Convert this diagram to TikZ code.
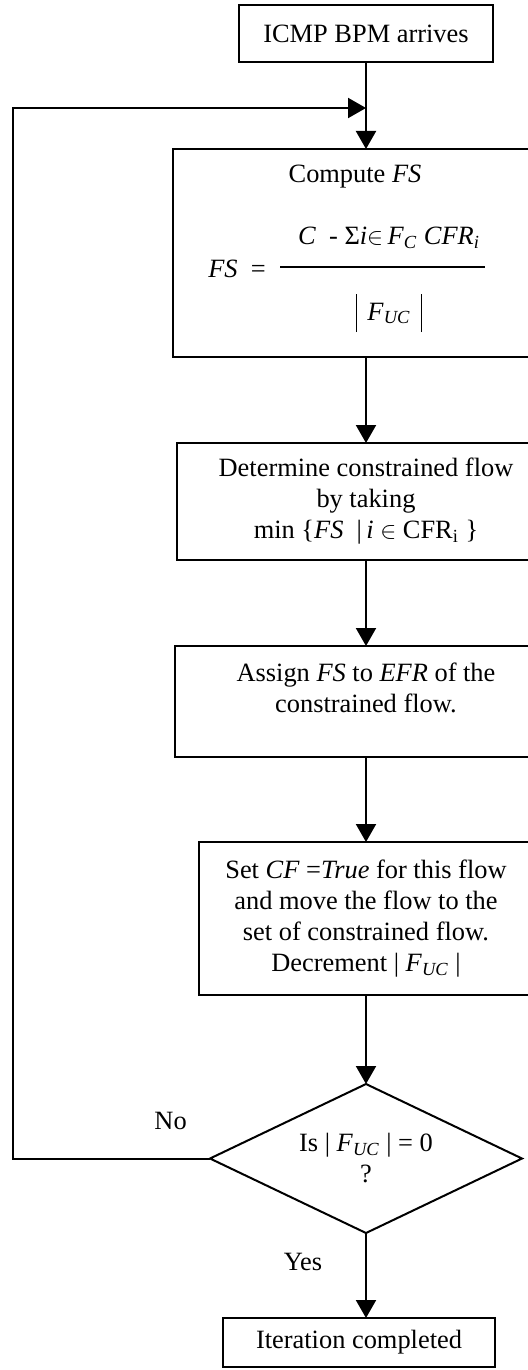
\documentclass[tikz,border=0pt]{standalone}
\usepackage{fontspec}
\setmainfont{Liberation Serif}
\usetikzlibrary{arrows.meta,positioning,shapes.geometric}
\newcommand{\lowix}[1]{\textsubscript{\itshape #1}}

\begin{document}
\begin{tikzpicture}[x=0.5pt, y=-0.5pt, font=\fontsize{13.2pt}{15.5pt}\selectfont,
  line width=1pt, >={Triangle[length=9pt,width=10pt]},
  blk/.style={draw, align=center, inner sep=2pt, outer sep=0pt, minimum width=#1},
  blk/.default=136pt,
  dec/.style={draw, diamond, aspect=2.1, align=center, inner sep=0pt, outer sep=0pt, minimum width=156pt, minimum height=74.5pt}]
\useasboundingbox (0,0) rectangle (528,1370);
\clip (0,0) rectangle (528,1370);
\node[blk=127pt, minimum height=28.5pt] (icmp) at (366,33.5) {ICMP BPM arrives};
\node[blk=193pt, minimum height=104pt, below=43.5pt of icmp] (comp) {};
\node (cfs) at ([shift={(-5.5pt,-14pt)}]comp.north) {Compute \textit{FS}};
\node (num) at ([shift={(11.5pt,-44.5pt)}]comp.north) {\textit{C}\ \ - Σ\textit{i}$\in$\,\textit{F}\lowix{C}\ \textit{CFR}\lowix{i}};
\node (fsl) at ([shift={(-64.5pt,-60pt)}]comp.north) {\textit{FS}\ \ =};
\node (den) at ([shift={(11.5pt,-82pt)}]comp.north) {\rule[-6pt]{0.8pt}{19pt}\hspace{5pt}\textit{F}\lowix{UC}\hspace{5pt}\rule[-6pt]{0.8pt}{19pt}};
\draw ([shift={(-43pt,-59pt)}]comp.north) -- ([shift={(59.5pt,-59pt)}]comp.north);
\node[blk=189pt, minimum height=58.5pt, below=43pt of comp] (detm) {Determine constrained flow\\by taking\\min \{\textit{FS}\ \ |\,\textit{i} $\in$ CFR\textsubscript{i} \}};
\node[blk=191pt, minimum height=55.5pt, below=43pt of detm] (asgn) {Assign \textit{FS} to \textit{EFR} of the\\constrained flow.\\[-2pt]\mbox{}};
\node[blk=167pt, minimum height=76.5pt, below=42.5pt of asgn] (setcf) {Set \textit{CF} =\textit{True} for this flow\\and move the flow to the\\set of constrained flow.\\Decrement | \textit{F}\lowix{UC} |};
\node[dec, below=44.5pt of setcf] (dec) {Is | \textit{F}\lowix{UC} | = 0\\?};
\node[blk=136pt, minimum height=24.5pt, below=42.5pt of dec, xshift=-3.5pt] (iter) {Iteration completed};
\coordinate (lp) at (13,108);
\draw[->] (icmp) -- (comp);
\draw[->] (comp) -- (detm);
\draw[->] (detm) -- (asgn);
\draw[->] (asgn) -- (setcf);
\draw[->] (setcf) -- (dec);
\draw[->] (dec.south) -- node[pos=0.34, xshift=-31.5pt]{Yes} (dec.south |- iter.north);
\draw[->] (dec.west) -- node[pos=0.2, yshift=19pt]{No} (dec.west -| lp) -- (lp) -- (lp -| icmp.south);
\end{tikzpicture}
\end{document}
